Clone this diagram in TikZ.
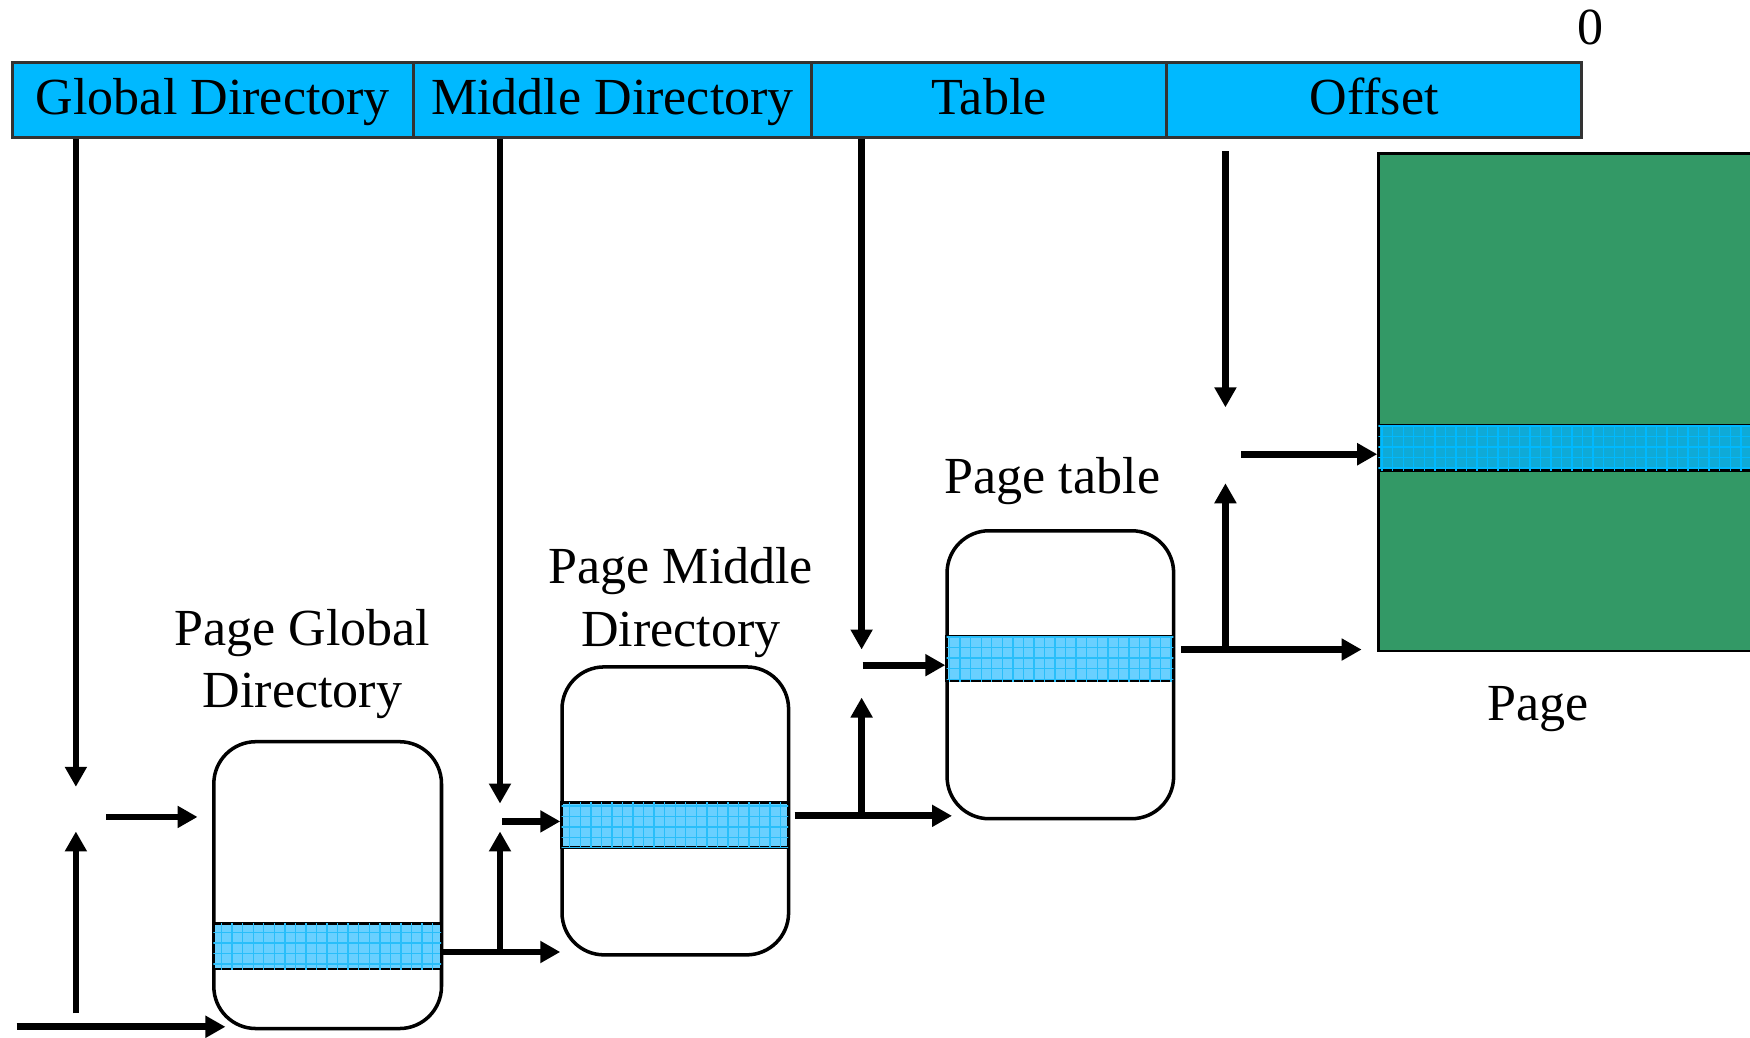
\documentclass[tikz,border=0pt]{standalone}
\usepackage{fontspec}
\setmainfont{Liberation Serif}
\usetikzlibrary{arrows.meta,patterns}

\newcommand{\pxu}{0.01116cm}
\definecolor{barblue}{RGB}{0,185,255}
\definecolor{bandblue}{RGB}{105,208,255}
\definecolor{gridblue}{RGB}{40,190,250}
\definecolor{pagegreen}{RGB}{51,153,102}
\definecolor{pageband}{RGB}{15,170,215}

\begin{document}
\begin{tikzpicture}[x=\pxu, y=-\pxu,
		every node/.style={font=\fontsize{14.8}{17.7}\selectfont},
		field/.style={draw=black!80, fill=barblue, line width=0.8pt, inner sep=0pt, anchor=north west, minimum height=67*\pxu, text height=0.8em, text depth=0em},
		tblbox/.style={draw, fill=white, line width=1pt, rounded corners=0.42cm, inner sep=0pt, anchor=north west},
		entry/.style={draw, line width=0.8pt, fill=bandblue, postaction={pattern=grid, pattern color=gridblue}, inner sep=0pt, anchor=north west},
		pagebox/.style={draw, fill=pagegreen, line width=0.8pt, inner sep=0pt, anchor=north west},
		pageentry/.style={entry, fill=pageband, postaction={pattern=grid, pattern color=barblue}},
		lbl/.style={align=center, inner sep=0pt},
		arr/.style={line width=1.9pt, -{Triangle[length=0.2cm, width=0.21cm]}}]
	\useasboundingbox (0,0) rectangle (1568,930);
	
	% linear address
	\node[field, minimum width=359*\pxu] (gd) at (10,55) {Global Directory};
	\node[field, minimum width=357*\pxu] (md) at (369,55) {Middle Directory};
	\node[field, minimum width=318*\pxu] (tb) at (726,55) {Table};
	\node[field, minimum width=372*\pxu] (off) at (1044,55) {Offset};
	\node (zero) at (1425,25) {0};
	
	% tables
	\node[tblbox, minimum width=204*\pxu, minimum height=257*\pxu] (pgd) at (190,663) {};
	\node[entry, minimum width=204*\pxu, minimum height=41*\pxu] (pgdE) at (190,826) {};
	\node[lbl] (pgdL) at (271,595) {Page Global\\Directory};
	
	\node[tblbox, minimum width=203*\pxu, minimum height=258*\pxu] (pmd) at (502,596) {};
	\node[entry, minimum width=203*\pxu, minimum height=40*\pxu] (pmdE) at (502,718) {};
	\node[lbl] (pmdL) at (610,540) {Page Middle\\Directory};
	
	\node[tblbox, minimum width=203*\pxu, minimum height=258*\pxu] (pt) at (847,474) {};
	\node[entry, minimum width=203*\pxu, minimum height=40*\pxu] (ptE) at (847,569) {};
	\node[lbl] (ptL) at (943,431) {Page table};
	
	\node[pagebox, minimum width=345*\pxu, minimum height=446*\pxu] (page) at (1234,136) {};
	\node[pageentry, minimum width=345*\pxu, minimum height=40*\pxu] (pageE) at (1234,380) {};
	\node[lbl] (pageL) at (1378,635) {Page};
	
	% free ends of the arrows
	\foreach \n/\p in {g1/{68,705}, g2/{68,908}, g3/{68,745}, g4/{95,732}, g6/{15,920}, g7/{202,920},
			m1/{448,720}, m2/{394,853}, m4/{448,853}, m5/{448,745}, m6/{450,736},
			t1/{772,582}, t2/{712,731}, t4/{772,731}, t5/{772,625}, t6/{773,596},
			o1/{1098,365}, o3/{1058,582}, o4/{1098,582}, o5/{1098,433}, o6/{1112,407}}
		\coordinate (\n) at (\p);
	
	% global directory
	\draw[arr] (gd.south -| g1) -- (g1);
	\draw[arr] (g2) -- (g3);
	\draw[arr, shorten >=13*\pxu] (g4) -- (pgd.west |- g4);
	\draw[arr] (g6) -- (g7);
	
	% middle directory
	\draw[arr] (md.south -| m1) -- (m1);
	\draw[arr] (m2) -- (m2 -| pmd.west);
	\draw[arr] (m4) -- (m5);
	\draw[arr] (m6) -- (pmd.west |- m6);
	
	% table
	\draw[arr] (tb.south -| t1) -- (t1);
	\draw[arr, shorten >=-6*\pxu] (t2) -- (t2 -| pt.west);
	\draw[arr] (t4) -- (t5);
	\draw[arr] (t6) -- (pt.west |- t6);
	
	% offset
	\draw[arr, shorten <=11*\pxu] (off.south -| o1) -- (o1);
	\draw[arr, shorten >=14*\pxu] (o3) -- (o3 -| page.west);
	\draw[arr] (o4) -- (o5);
	\draw[arr] (o6) -- (page.west |- o6);
\end{tikzpicture}
\end{document}
